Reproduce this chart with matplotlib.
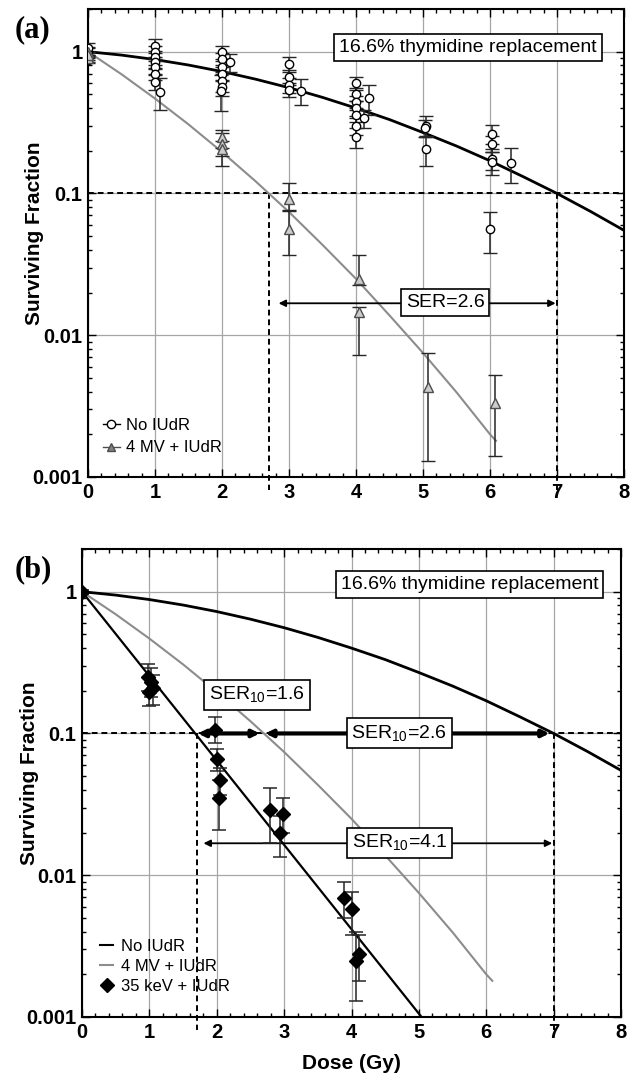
import matplotlib
matplotlib.use("Agg")
import matplotlib.pyplot as plt
from matplotlib.lines import Line2D
from matplotlib.ticker import LogLocator, MultipleLocator, NullFormatter

plt.rcParams.update({"font.family": ["Liberation Sans", "DejaVu Sans"], "font.size": 12})

# LQ fit curves, tabulated at 0.5 Gy steps
fit_dose_ctrl = [0, 0.5, 1, 1.5, 2, 2.5, 3, 3.5, 4, 4.5, 5, 5.5, 6, 6.5, 7, 7.5, 8]
fit_sf_ctrl = [1.0, 0.946, 0.880, 0.805, 0.724, 0.640, 0.557, 0.476, 0.400, 0.332,
               0.269, 0.216, 0.170, 0.131, 0.100, 0.0747, 0.0549]
fit_dose_mv = [0, 0.5, 1, 1.5, 2, 2.5, 3, 3.5, 4, 4.5, 5, 5.5, 6, 6.09]
fit_sf_mv = [1.0, 0.693, 0.467, 0.307, 0.196, 0.122, 0.074, 0.0434, 0.025, 0.0138,
             0.0075, 0.00396, 0.0020, 0.0018]
fit_dose_kev = [0, 5.04]
fit_sf_kev = [1.0, 0.001]

# dose (Gy) giving 10% survival
d10_ctrl = 7.0
d10_mv = 2.7
d10_kev = 1.7

# No IUdR measurements
ctrl_dose = [0, 0, 0, 0,
             1, 1, 1, 1, 1, 1, 1, 1.08,
             2, 2, 2, 2, 2, 2, 2.12, 1.98,
             3, 3, 3, 3, 3.18,
             4, 4, 4, 4, 4, 4, 4, 4.12, 4.2,
             5.05, 5.03, 5.05,
             6.03, 6.03, 6.03, 6.03, 6.0, 6.32]
ctrl_sf = [1.0, 0.93, 1.07, 0.88,
           1.10, 0.99, 0.91, 0.84, 0.775, 0.70, 0.61, 0.52,
           0.99, 0.89, 0.775, 0.70, 0.62, 0.56, 0.84, 0.53,
           0.82, 0.66, 0.58, 0.54, 0.53,
           0.60, 0.50, 0.44, 0.40, 0.36, 0.30, 0.25, 0.34, 0.47,
           0.30, 0.29, 0.205,
           0.264, 0.225, 0.176, 0.166, 0.056, 0.163]
ctrl_err = [0.08, 0.06, 0.08, 0.05,
            0.12, 0.10, 0.10, 0.08, 0.08, 0.07, 0.07, 0.13,
            0.10, 0.09, 0.08, 0.08, 0.10, 0.07, 0.12, 0.15,
            0.10, 0.08, 0.07, 0.06, 0.11,
            0.06, 0.05, 0.05, 0.05, 0.04, 0.04, 0.04, 0.05, 0.11,
            0.05, 0.04, 0.05,
            0.04, 0.03, 0.03, 0.03, 0.018, 0.045]

# 4 MV + IUdR measurements
mv_dose = [0, 0, 0, 2, 2, 2, 3, 3, 4.05, 4.05, 5.07, 6.07]
mv_sf = [1.0, 0.9, 0.95, 0.25, 0.225, 0.205, 0.092, 0.056, 0.025, 0.0145, 0.0043, 0.0033]
mv_err_lo = [0.06, 0.05, 0.05, 0.04, 0.04, 0.05, 0.016, 0.019, 0.0025, 0.0073, 0.003, 0.0019]
mv_err_hi = [0.06, 0.05, 0.05, 0.03, 0.04, 0.03, 0.026, 0.019, 0.012, 0.0012, 0.0032, 0.0019]

# 35 keV + IUdR measurements
kev_dose = [0, 0.98, 1.02, 1.05, 1.0, 1.97, 2.0, 2.05, 2.03, 2.79, 2.98, 2.94, 3.89, 4.01, 4.06, 4.11]
kev_sf = [1.0, 0.25, 0.23, 0.21, 0.195, 0.105, 0.066, 0.047, 0.035, 0.029, 0.027, 0.020,
          0.0069, 0.0058, 0.0025, 0.0028]
kev_err_lo = [0.03, 0.05, 0.05, 0.05, 0.04, 0.019, 0.012, 0.01, 0.014, 0.012, 0.007, 0.0066,
              0.0019, 0.002, 0.0012, 0.001]
kev_err_hi = [0.03, 0.06, 0.06, 0.05, 0.05, 0.025, 0.012, 0.01, 0.012, 0.012, 0.008, 0.006,
              0.002, 0.0018, 0.0015, 0.001]

ytick_vals = [0.001, 0.01, 0.1, 1]
ytick_labels = ["0.001", "0.01", "0.1", "1"]
xtick_vals = [0, 1, 2, 3, 4, 5, 6, 7, 8]

GRAY = "0.55"
BOX = dict(boxstyle="square,pad=0.25", fc="white", ec="k", lw=1.2)


def style_axes(ax, label_x):
    ax.set_yscale("log")
    ax.set_xlim(0, 8)
    ax.set_ylim(0.001, 2)
    ax.set_xticks(xtick_vals, labels=[str(v) for v in xtick_vals])
    ax.set_yticks(ytick_vals, labels=ytick_labels)
    ax.xaxis.set_minor_locator(MultipleLocator(0.2))
    ax.yaxis.set_minor_locator(LogLocator(subs=range(2, 10)))
    ax.yaxis.set_minor_formatter(NullFormatter())
    for lab in ax.get_xticklabels() + ax.get_yticklabels():
        lab.set_fontsize(14.5)
        lab.set_fontweight("bold")
    ax.tick_params(which="both", direction="in", top=True, right=True, width=1)
    ax.tick_params(which="major", length=6, pad=4)
    ax.tick_params(which="minor", length=3)
    ax.grid(which="major", color="0.65", lw=0.9)
    ax.set_axisbelow(True)
    for sp in ax.spines.values():
        sp.set_linewidth(1.5)
    ax.set_ylabel("Surviving Fraction", fontsize=15, fontweight="bold")
    ax.yaxis.set_label_coords(label_x, 0.52)


def d10_guides(ax, doses):
    ax.axhline(0.1, color="k", lw=1.4, ls=(0, (3, 2)), zorder=2)
    for d in doses:
        ax.plot([d, d], [0.1, 0.00081], color="k", lw=1.4, ls=(0, (3, 2)),
                clip_on=False, zorder=2)


def ser_arrow(ax, x0, x1, y, lw, ms, shrink_a, shrink_b):
    ax.annotate("", xy=(x1, y), xytext=(x0, y),
                arrowprops=dict(arrowstyle="<|-|>", color="k", lw=lw,
                                mutation_scale=ms, shrinkA=shrink_a, shrinkB=shrink_b),
                zorder=3)


fig = plt.figure(figsize=(6.3, 10.8), dpi=100)
ax_a = fig.add_axes([88 / 630, 1 - 477 / 1080, 536 / 630, 468 / 1080])
ax_b = fig.add_axes([82 / 630, 1 - 1017 / 1080, 539 / 630, 468 / 1080])

# ---- panel (a) ----
style_axes(ax_a, -0.082)
d10_guides(ax_a, [d10_mv, d10_ctrl])
ax_a.plot(fit_dose_ctrl, fit_sf_ctrl, color="k", lw=2.0, zorder=3)
ax_a.plot(fit_dose_mv, fit_sf_mv, color=GRAY, lw=1.5, zorder=3)
ax_a.errorbar(ctrl_dose, ctrl_sf, yerr=ctrl_err, fmt="o", ms=6, mfc="white", mec="k",
              mew=1.0, ecolor="0.15", elinewidth=1.1, capsize=5, capthick=1.1, zorder=4)
ax_a.errorbar(mv_dose, mv_sf, yerr=[mv_err_lo, mv_err_hi], fmt="^", ms=6.5, mfc="0.8",
              mec="0.3", mew=1.0, ecolor="0.15", elinewidth=1.1, capsize=5, capthick=1.1,
              zorder=4)
ser_a = d10_ctrl / d10_mv
ser_arrow(ax_a, d10_mv, d10_ctrl, 0.0168, 1.3, 10, 7, 1)
ax_a.text(5.33, 0.0171, f"SER={ser_a:.1f}", fontsize=14, ha="center", va="center",
          bbox=BOX, zorder=5)
ax_a.text(5.67, 1.067, "16.6% thymidine replacement", fontsize=14, ha="center",
          va="center", bbox=BOX, zorder=5)
handles_a = [
    Line2D([], [], marker="o", ms=6, mfc="white", mec="k", color="k", lw=1.0),
    Line2D([], [], marker="^", ms=6, mfc="0.5", mec="0.3", color="0.3", lw=1.0),
]
ax_a.legend(handles_a, ["No IUdR", "4 MV + IUdR"], loc="upper left",
            bbox_to_anchor=(103 / 630, 1 - 418 / 1080), bbox_transform=fig.transFigure,
            frameon=False, fontsize=12, handlelength=1.0, handletextpad=0.4,
            labelspacing=0.45, borderpad=0, borderaxespad=0)

# ---- panel (b) ----
style_axes(ax_b, -0.08)
ax_b.set_xlabel("Dose (Gy)", fontsize=15, fontweight="bold", labelpad=9)
d10_guides(ax_b, [d10_kev, d10_ctrl])
ax_b.plot(fit_dose_ctrl, fit_sf_ctrl, color="k", lw=2.0, zorder=3)
ax_b.plot(fit_dose_mv, fit_sf_mv, color=GRAY, lw=1.5, zorder=3)
ax_b.plot(fit_dose_kev, fit_sf_kev, color="k", lw=1.6, zorder=3)
ax_b.errorbar(kev_dose, kev_sf, yerr=[kev_err_lo, kev_err_hi], fmt="D", ms=7, mfc="k",
              mec="k", ecolor="0.15", elinewidth=1.1, capsize=5, capthick=1.1, zorder=4)
ser_16 = d10_mv / d10_kev
ser_26 = d10_ctrl / d10_mv
ser_41 = d10_ctrl / d10_kev
ser_arrow(ax_b, d10_kev, d10_mv, 0.1, 3.0, 10, 1, 3)
ser_arrow(ax_b, d10_mv, d10_ctrl, 0.1, 3.0, 10, 1, 3)
ser_arrow(ax_b, d10_kev, d10_ctrl, 0.0168, 1.3, 10, 5, 1)
ax_b.text(2.6, 0.187, "SER$_{\\mathregular{10}}$=" + f"{ser_16:.1f}", fontsize=14,
          ha="center", va="center", bbox=BOX, zorder=5)
ax_b.text(4.71, 0.1, "SER$_{\\mathregular{10}}$=" + f"{ser_26:.1f}", fontsize=14,
          ha="center", va="center", bbox=BOX, zorder=5)
ax_b.text(4.71, 0.0168, "SER$_{\\mathregular{10}}$=" + f"{ser_41:.1f}", fontsize=14,
          ha="center", va="center", bbox=BOX, zorder=5)
ax_b.text(5.75, 1.12, "16.6% thymidine replacement", fontsize=14, ha="center",
          va="center", bbox=BOX, zorder=5)
handles_b = [
    Line2D([], [], color="k", lw=1.5),
    Line2D([], [], color=GRAY, lw=1.5),
    Line2D([], [], marker="D", ms=7, mfc="k", mec="k", ls="none"),
]
ax_b.legend(handles_b, ["No IUdR", "4 MV + IUdR", "35 keV + IUdR"], loc="upper left",
            bbox_to_anchor=(100 / 630, 1 - 939 / 1080), bbox_transform=fig.transFigure,
            frameon=False, fontsize=12, handlelength=0.8, handletextpad=0.45,
            labelspacing=0.3, borderpad=0, borderaxespad=0)

fig.text(33 / 630, 1 - 30 / 1080, "(a)", family="Liberation Serif", weight="bold",
         fontsize=22, ha="center", va="center")
fig.text(33 / 630, 1 - 570 / 1080, "(b)", family="Liberation Serif", weight="bold",
         fontsize=22, ha="center", va="center")

fig.savefig("out.png", dpi=100)
